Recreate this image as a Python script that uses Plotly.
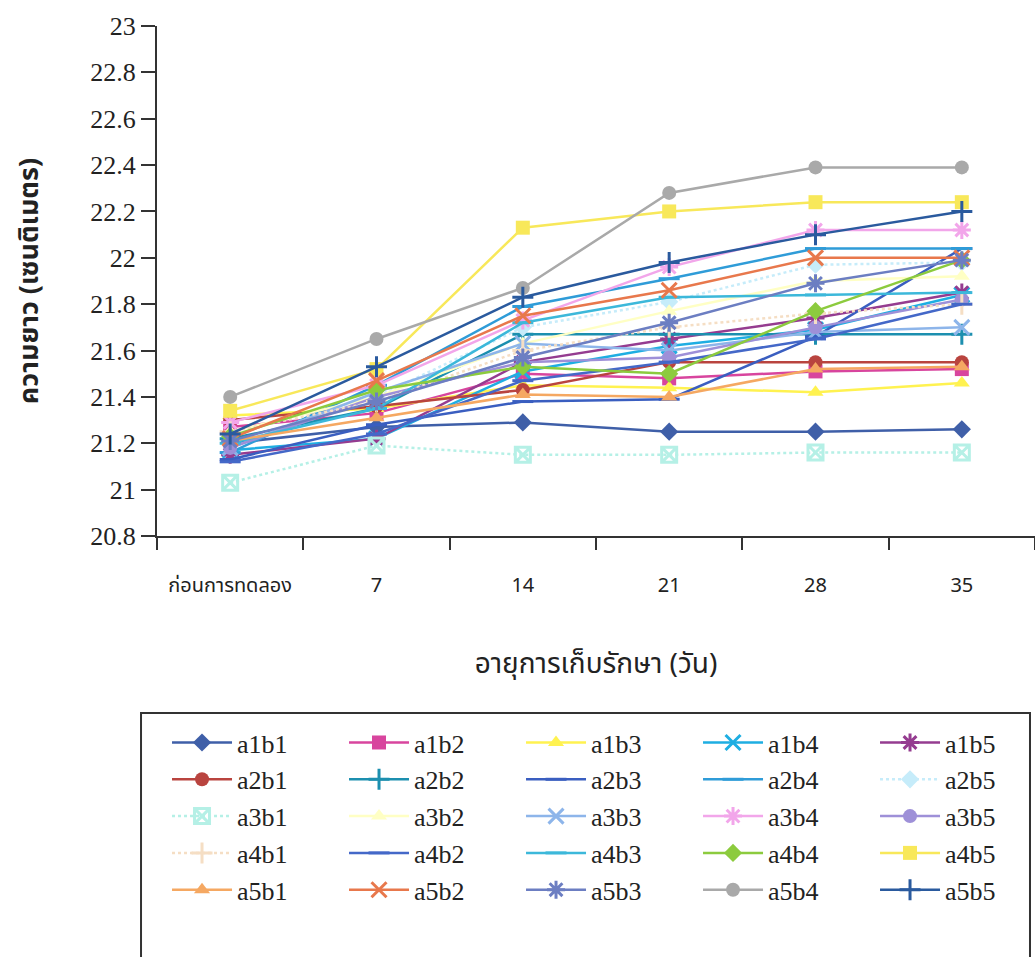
import plotly.graph_objects as go

categories = ["ก่อนการทดลอง", "7", "14", "21", "28", "35"]

a1b1 = [21.20, 21.27, 21.29, 21.25, 21.25, 21.26]
a1b2 = [21.27, 21.33, 21.50, 21.48, 21.51, 21.52]
a1b3 = [21.32, 21.35, 21.45, 21.44, 21.42, 21.46]
a1b4 = [21.17, 21.22, 21.51, 21.62, 21.69, 21.84]
a1b5 = [21.15, 21.22, 21.55, 21.65, 21.74, 21.85]
a2b1 = [21.30, 21.36, 21.43, 21.55, 21.55, 21.55]
a2b2 = [21.22, 21.35, 21.67, 21.67, 21.67, 21.67]
a2b3 = [21.13, 21.28, 21.38, 21.39, 21.66, 22.04]
a2b4 = [21.16, 21.45, 21.79, 21.91, 22.04, 22.04]
a2b5 = [21.20, 21.40, 21.70, 21.81, 21.97, 21.98]
a3b1 = [21.03, 21.19, 21.15, 21.15, 21.16, 21.16]
a3b2 = [21.25, 21.40, 21.63, 21.77, 21.90, 21.92]
a3b3 = [21.18, 21.42, 21.63, 21.60, 21.68, 21.70]
a3b4 = [21.29, 21.45, 21.73, 21.96, 22.12, 22.12]
a3b5 = [21.18, 21.40, 21.55, 21.57, 21.70, 21.82]
a4b1 = [21.25, 21.38, 21.60, 21.70, 21.76, 21.80]
a4b2 = [21.12, 21.24, 21.47, 21.55, 21.65, 21.80]
a4b3 = [21.20, 21.35, 21.72, 21.83, 21.84, 21.85]
a4b4 = [21.23, 21.43, 21.53, 21.50, 21.77, 21.99]
a4b5 = [21.34, 21.52, 22.13, 22.20, 22.24, 22.24]
a5b1 = [21.21, 21.31, 21.41, 21.40, 21.52, 21.53]
a5b2 = [21.22, 21.47, 21.75, 21.86, 22.00, 22.00]
a5b3 = [21.21, 21.38, 21.57, 21.72, 21.89, 21.99]
a5b4 = [21.40, 21.65, 21.87, 22.28, 22.39, 22.39]
a5b5 = [21.24, 21.53, 21.83, 21.98, 22.10, 22.20]

series = [
    ("a1b1", a1b1, "#3F5FA8", "diamond", "solid"),
    ("a1b2", a1b2, "#D8459E", "square", "solid"),
    ("a1b3", a1b3, "#FFF250", "triangle-up", "solid"),
    ("a1b4", a1b4, "#1EAEE2", "x-thin-open", "solid"),
    ("a1b5", a1b5, "#953C90", "asterisk-open", "solid"),
    ("a2b1", a2b1, "#B9443F", "circle", "solid"),
    ("a2b2", a2b2, "#1C8FAF", "cross-thin-open", "solid"),
    ("a2b3", a2b3, "#3A5EC0", "line-ew-open", "solid"),
    ("a2b4", a2b4, "#2F9CD8", "line-ew-open", "solid"),
    ("a2b5", a2b5, "#C6ECFA", "diamond", "dot"),
    ("a3b1", a3b1, "#B5F0E6", "square-x-open", "dot"),
    ("a3b2", a3b2, "#FFFFC4", "triangle-up", "solid"),
    ("a3b3", a3b3, "#8DB5EA", "x-thin-open", "solid"),
    ("a3b4", a3b4, "#F2A6EA", "asterisk-open", "solid"),
    ("a3b5", a3b5, "#9E90D8", "circle", "solid"),
    ("a4b1", a4b1, "#F5DEC4", "cross-thin-open", "dot"),
    ("a4b2", a4b2, "#4468C8", "line-ew-open", "solid"),
    ("a4b3", a4b3, "#3CB8DA", "line-ew-open", "solid"),
    ("a4b4", a4b4, "#8CCB3E", "diamond", "solid"),
    ("a4b5", a4b5, "#F8E85A", "square", "solid"),
    ("a5b1", a5b1, "#F5A862", "triangle-up", "solid"),
    ("a5b2", a5b2, "#E8784C", "x-thin-open", "solid"),
    ("a5b3", a5b3, "#6C7EC2", "asterisk-open", "solid"),
    ("a5b4", a5b4, "#A9A9A9", "circle", "solid"),
    ("a5b5", a5b5, "#2A5A9E", "cross-thin-open", "solid"),
]

fig = go.Figure()
for name, vals, color, sym, dash in series:
    open_sym = sym.endswith("-open")
    fig.add_trace(go.Scatter(
        x=categories, y=vals, name=name, mode="lines+markers",
        line=dict(color=color, width=2.5, dash=dash),
        marker=dict(symbol=sym, size=14 if not open_sym else 15, color=color,
                    line=dict(color=color, width=3 if open_sym else 0)),
    ))

thai = "Noto Sans Thai, Loma, Garuda, Norasi, sans-serif"
serif = "Liberation Serif"

# legend frame (bottom edge runs off the page as in the source)
fig.add_shape(type="rect", xref="paper", yref="paper",
              x0=-0.0182, x1=0.9943, y0=-0.85, y1=-0.347,
              line=dict(color="#333", width=2), fillcolor="rgba(0,0,0,0)", layer="above")

fig.update_layout(
    width=1035, height=957,
    margin=dict(l=157, r=0, t=26, b=421, autoexpand=False),
    paper_bgcolor="white", plot_bgcolor="white",
    showlegend=True,
    legend=dict(
        orientation="h", x=-0.0182, y=-0.359, xanchor="left", yanchor="top",
        font=dict(family=serif, size=26, color="#222"),
        bgcolor="rgba(0,0,0,0)", borderwidth=0,
        itemwidth=60, indentation=26,
        entrywidth=76, entrywidthmode="pixels",
        traceorder="normal",
    ),
)
fig.update_xaxes(
    type="category", range=[-0.5, 5.5],
    showline=True, linecolor="#333", linewidth=2,
    ticks="outside", ticklen=12, tickwidth=2, tickcolor="#333",
    tickson="boundaries", showgrid=False, zeroline=False,
    tickfont=dict(family=thai, size=20, color="#222"),
    ticklabelstandoff=30,
    title=dict(text="อายุการเก็บรักษา (วัน)", font=dict(family=thai, size=28, color="#222"), standoff=53),
)
fig.update_yaxes(
    range=[20.8, 23], dtick=0.2, tick0=20.8,
    showline=True, linecolor="#333", linewidth=2,
    ticks="outside", ticklen=14, tickwidth=2, tickcolor="#333",
    showgrid=False, zeroline=False,
    tickfont=dict(family=serif, size=26, color="#222"),
    title=dict(text="<b>ความยาว (เซนติเมตร)</b>", font=dict(family=thai, size=27, color="#222"), standoff=44),
)

fig.write_html("out.html")
